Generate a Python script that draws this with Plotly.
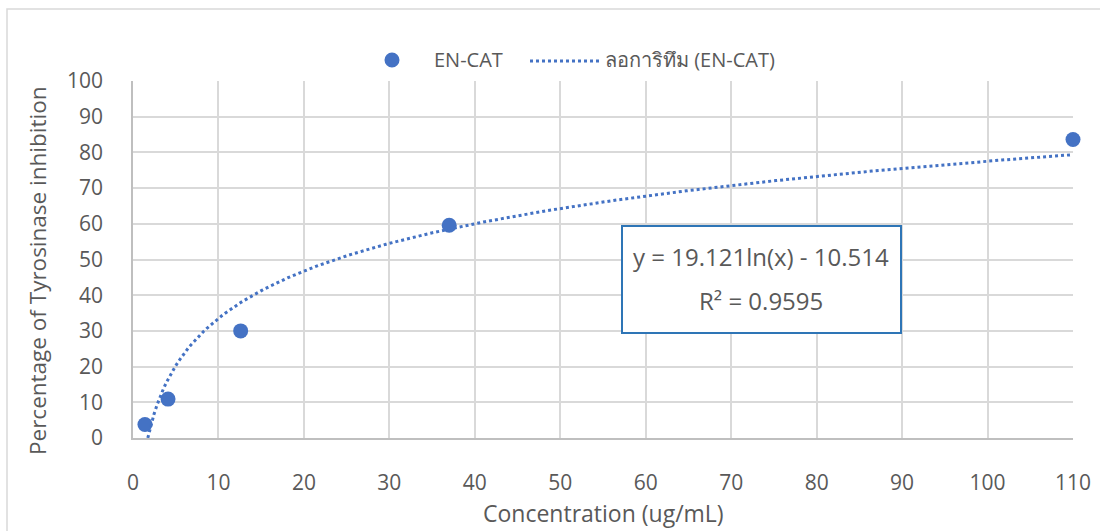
import numpy as np
import plotly.graph_objects as go

# Data
concentration = [1.4, 4.1, 12.6, 37.0, 110.0]
inhibition = [3.8, 10.9, 30.0, 59.6, 83.6]
x_ticks = [0, 10, 20, 30, 40, 50, 60, 70, 80, 90, 100, 110]
y_ticks = [0, 10, 20, 30, 40, 50, 60, 70, 80, 90, 100]
slope = 19.121
intercept = -10.514
r_squared = 0.9595

series_name = "EN-CAT"
trend_name = "ลอการิทึม (EN-CAT)"
x_title = "Concentration (ug/mL)"
y_title = "Percentage of Tyrosinase inhibition"

# trendline from the displayed equation, clipped to y >= 0
x_start = float(np.exp(-intercept / slope))
trend_x = np.linspace(x_start, max(concentration), 300)
trend_y = slope * np.log(trend_x) + intercept

blue = "#4472C4"
grey_text = "#595959"
font_family = "Open Sans, Noto Sans, DejaVu Sans, sans-serif"

# plot area in pixels
L, R, T, B = 133, 1073, 81, 438
W, H = R - L, B - T


def px(xp):
    return (xp - L) / W


def py(yp):
    return (B - yp) / H


fig = go.Figure()
fig.add_trace(go.Scatter(
    x=concentration, y=inhibition, mode="markers", name=series_name,
    marker=dict(size=15, color=blue), cliponaxis=False, showlegend=False,
))
fig.add_trace(go.Scatter(
    x=trend_x, y=trend_y, mode="lines", name=trend_name,
    line=dict(color=blue, width=3, dash="dot"), showlegend=False,
))

fig.update_layout(
    width=1100, height=531,
    margin=dict(l=L, r=1100 - R, t=T, b=531 - B, autoexpand=False),
    paper_bgcolor="white", plot_bgcolor="white",
    font=dict(family=font_family, color=grey_text, size=21),
    showlegend=False,
    xaxis=dict(range=[0, 110], tickvals=x_ticks, showgrid=True, gridcolor="#D9D9D9",
               gridwidth=1.5, showline=True, linecolor="#BFBFBF", linewidth=1.5,
               zeroline=False, ticks="", ticklabelstandoff=25, automargin=False),
    yaxis=dict(range=[0, 100], tickvals=y_ticks, showgrid=True, gridcolor="#D9D9D9",
               gridwidth=1.5, showline=True, linecolor="#BFBFBF", linewidth=1.5,
               zeroline=False, ticks="", ticklabelstandoff=24, automargin=False),
)

# axis titles
fig.add_annotation(xref="paper", yref="paper", x=px(603), y=py(513),
                   text=x_title, showarrow=False, xanchor="center", yanchor="middle",
                   font=dict(size=23, color=grey_text))
fig.add_annotation(xref="paper", yref="paper", x=px(37), y=py(271),
                   text=y_title, showarrow=False, textangle=-90,
                   xanchor="center", yanchor="middle",
                   font=dict(size=22.5, color=grey_text))

# manual legend
fig.add_shape(type="circle", xref="paper", yref="paper",
              x0=px(392 - 7.5), x1=px(392 + 7.5), y0=py(60 + 7.5), y1=py(60 - 7.5),
              line=dict(width=0), fillcolor=blue)
fig.add_annotation(xref="paper", yref="paper", x=px(432), y=py(59),
                   text=series_name, showarrow=False, xanchor="left", yanchor="middle",
                   font=dict(size=20, color=grey_text))
fig.add_shape(type="line", xref="paper", yref="paper",
              x0=px(530), x1=px(599), y0=py(61), y1=py(61),
              line=dict(color=blue, width=3, dash="dot"))
fig.add_annotation(xref="paper", yref="paper", x=px(603), y=py(59),
                   text=trend_name, showarrow=False, xanchor="left", yanchor="middle",
                   font=dict(size=20, color=grey_text))

# equation box
fig.add_shape(type="rect", xref="paper", yref="paper",
              x0=px(622), x1=px(901), y0=py(333), y1=py(226),
              line=dict(color="#2E75B6", width=2), fillcolor="white", layer="above")
fig.add_annotation(xref="paper", yref="paper", x=px(761), y=py(256),
                   text=f"y = {slope}ln(x) - {abs(intercept)}", showarrow=False,
                   xanchor="center", yanchor="middle",
                   font=dict(size=24, color=grey_text))
fig.add_annotation(xref="paper", yref="paper", x=px(761), y=py(300),
                   text=f"R² = {r_squared}", showarrow=False,
                   xanchor="center", yanchor="middle",
                   font=dict(size=24, color=grey_text))

# outer chart border
fig.add_shape(type="rect", xref="paper", yref="paper",
              x0=px(7), x1=px(1110), y0=py(540), y1=py(9),
              line=dict(color="#D9D9D9", width=1.5), layer="below")

fig.write_html("out.html")
